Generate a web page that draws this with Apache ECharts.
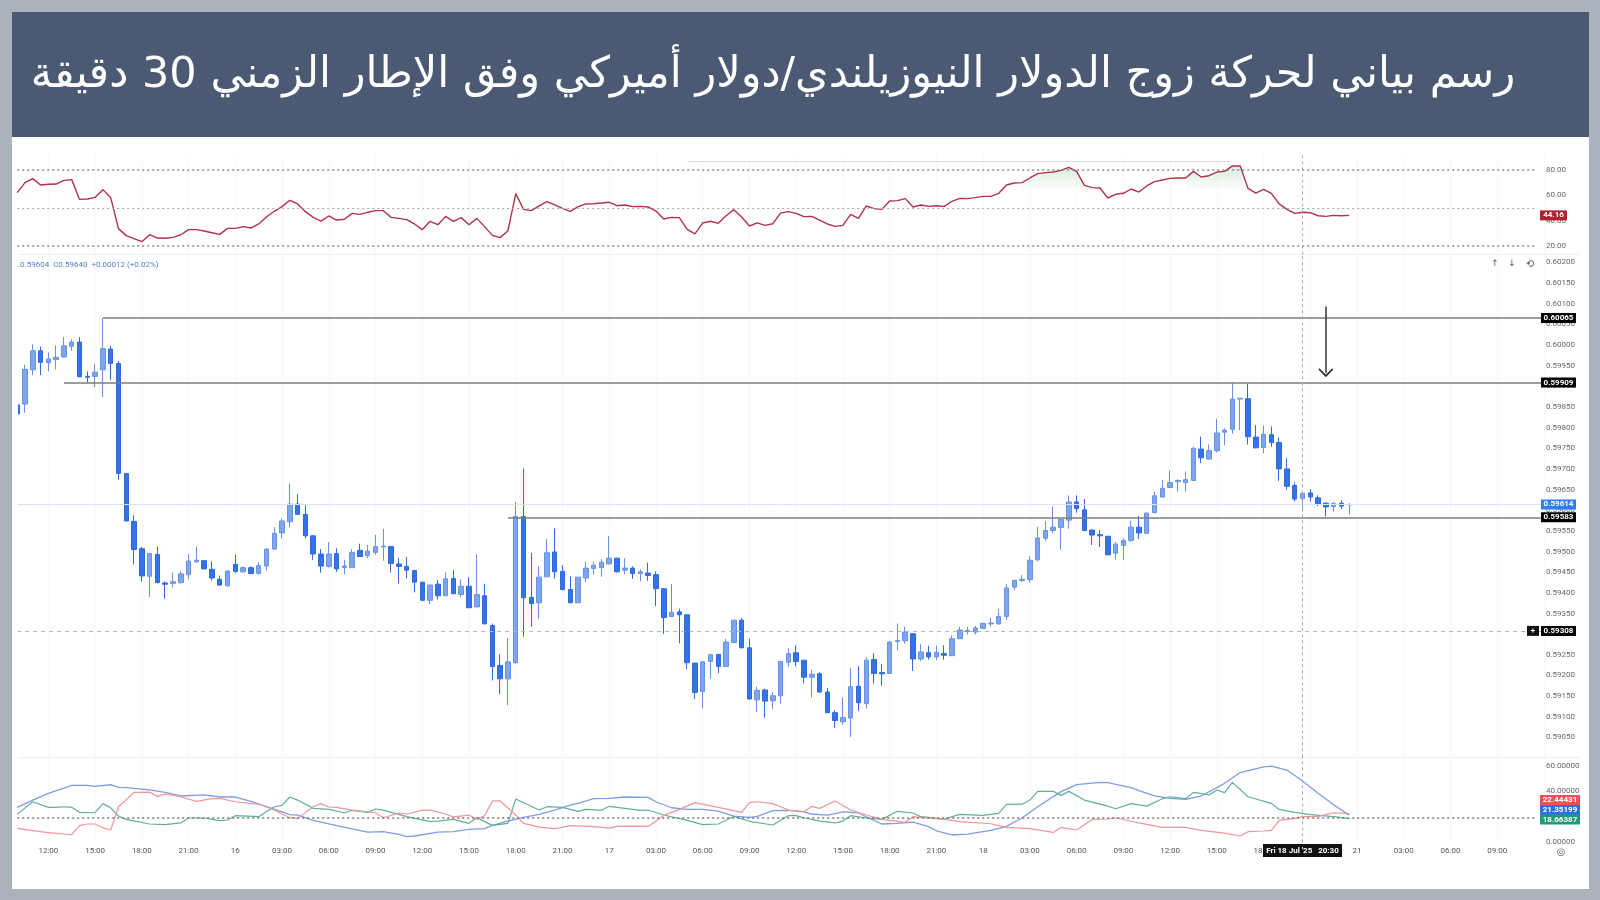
<!DOCTYPE html>
<html lang="ar">
<head>
    <meta charset="utf-8" />
    <title>NZD/USD 30m</title>
    <script type="text/javascript" src="https://cdn.jsdelivr.net/npm/echarts@6/dist/echarts.min.js"></script>
    <style type="text/css">
        html, body { margin: 0; padding: 0; background: #aab3bc; }
        #main { width: 1600px; height: 900px; }
    </style>
</head>
<body>
    <div id="main"></div>
    <script type="text/javascript">
        // values, prices in 1/100000
        var opens = [
            59855,59857,59940,59986,59957,59965,59971,59997,60007,59924,
            59924,59940,59990,59955,59689,59573,59507,59440,59493,59424,
            59423,59425,59444,59475,59478,59457,59433,59417,59469,59451,
            59461,59447,59465,59506,59545,59572,59615,59590,59538,59494,
            59464,59495,59461,59461,59503,59490,59498,59511,59512,59470,
            59464,59454,59426,59382,59421,59393,59435,59396,59416,59366,
            59393,59321,59224,59192,59231,59585,59389,59376,59439,59499,
            59452,59408,59376,59436,59459,59461,59470,59484,59455,59460,
            59447,59448,59444,59410,59343,59354,59347,59230,59161,59234,
            59251,59222,59280,59334,59267,59141,59165,59139,59151,59232,
            59255,59237,59196,59204,59160,59110,59088,59097,59174,59132,
            59239,59207,59205,59282,59284,59301,59240,59255,59245,59253,
            59248,59289,59306,59305,59314,59325,59325,59343,59414,59430,
            59432,59480,59532,59551,59558,59576,59620,59601,59552,59541,
            59537,59496,59515,59527,59559,59544,59594,59632,59655,59669,
            59667,59672,59748,59724,59744,59789,59796,59869,59870,59777,
            59752,59783,59764,59700,59660,59628,59642,59630,59617,59609,
            59617,59613
        ];
        var closes = [
            59833,59941,59986,59958,59966,59970,59998,60007,59923,59922,
            59934,59991,59955,59689,59574,59505,59441,59495,59425,59421,
            59427,59446,59477,59479,59458,59436,59419,59453,59452,59461,
            59447,59466,59506,59544,59574,59615,59590,59538,59494,59465,
            59494,59458,59465,59498,59488,59501,59512,59513,59471,59464,
            59455,59426,59382,59419,59393,59434,59398,59416,59364,59396,
            59325,59222,59192,59233,59585,59388,59374,59438,59497,59451,
            59408,59376,59438,59460,59467,59474,59484,59451,59460,59447,
            59451,59442,59410,59340,59353,59347,59231,59159,59233,59250,
            59222,59281,59334,59267,59143,59164,59138,59151,59234,59253,
            59234,59196,59203,59160,59110,59091,59098,59173,59134,59237,
            59205,59204,59281,59285,59305,59240,59257,59245,59256,59249,
            59289,59310,59309,59315,59326,59327,59343,59412,59430,59433,
            59479,59533,59551,59559,59578,59620,59604,59551,59540,59538,
            59492,59518,59527,59559,59545,59593,59635,59653,59667,59672,
            59674,59750,59727,59744,59787,59794,59869,59871,59778,59751,
            59784,59764,59700,59658,59627,59641,59632,59614,59608,59616,
            59610,59614
        ];
        var lows = [
            59833,59836,59927,59927,59936,59941,59970,59986,59922,59909,
            59898,59874,59915,59674,59574,59469,59427,59390,59423,59386,
            59413,59422,59433,59474,59457,59430,59417,59416,59448,59449,
            59446,59444,59454,59504,59532,59558,59589,59532,59480,59449,
            59461,59451,59445,59460,59487,59484,59492,59478,59449,59423,
            59435,59401,59380,59373,59384,59393,59397,59389,59363,59366,
            59324,59188,59155,59128,59229,59294,59318,59337,59439,59434,
            59406,59375,59375,59426,59444,59439,59469,59449,59445,59434,
            59428,59429,59368,59301,59341,59278,59215,59143,59120,59192,
            59206,59221,59278,59266,59142,59112,59098,59119,59132,59221,
            59222,59181,59147,59158,59110,59073,59080,59051,59114,59120,
            59181,59175,59205,59261,59277,59211,59235,59238,59237,59238,
            59247,59288,59299,59299,59313,59318,59324,59335,59406,59426,
            59425,59476,59525,59544,59505,59555,59594,59550,59516,59511,
            59492,59480,59480,59523,59530,59544,59593,59632,59654,59646,
            59646,59671,59714,59723,59740,59757,59785,59794,59759,59750,
            59738,59754,59671,59650,59621,59603,59621,59610,59585,59597,
            59603,59590
        ];
        var highs = [
            59855,59952,60002,59996,59982,59999,60019,60014,60019,59936,
            59954,60065,59998,59961,59689,59588,59511,59497,59512,59428,
            59449,59452,59494,59512,59479,59476,59442,59454,59492,59464,
            59464,59474,59507,59559,59580,59665,59639,59613,59540,59506,
            59523,59508,59480,59506,59519,59516,59540,59555,59513,59484,
            59487,59454,59426,59419,59431,59450,59455,59433,59438,59494,
            59422,59326,59251,59291,59620,59701,59497,59465,59530,59556,
            59467,59440,59438,59475,59476,59481,59538,59485,59484,59464,
            59457,59473,59452,59411,59422,59362,59347,59230,59234,59253,
            59251,59289,59334,59339,59289,59173,59168,59160,59234,59266,
            59273,59237,59214,59208,59170,59116,59147,59218,59222,59244,
            59254,59228,59283,59326,59318,59302,59276,59272,59272,59273,
            59297,59318,59318,59320,59328,59339,59361,59421,59432,59443,
            59488,59560,59574,59609,59578,59636,59636,59627,59554,59552,
            59537,59523,59532,59575,59586,59595,59645,59673,59696,59675,
            59694,59754,59778,59759,59822,59798,59909,59871,59907,59806,
            59805,59803,59776,59726,59667,59645,59651,59636,59619,59620,
            59624,59617
        ];
        var rsiValues = [
            62.1,70,73.2,68.2,68.7,68.9,71.8,72.4,56.8,57.1,
            58.4,64.5,58.2,33.7,28.2,25.8,23.4,28.9,26.3,26.1,
            26.8,28.9,32.9,32.9,31.8,30.5,29.2,33.9,33.9,35.3,
            34.2,37.4,42.9,47.4,51.1,56.1,53.2,47.1,42.6,39.7,
            43.7,40.5,41.1,45.8,45,46.6,47.9,47.9,42.6,41.8,
            40.8,37.4,32.9,39.5,36.8,43.4,39.5,42.4,36.8,41.8,
            35.3,28.4,26.6,32.1,61.3,48.9,47.9,51.6,55,52.4,
            49.7,47.4,51.1,53.2,53.4,53.9,54.5,51.8,52.4,51.1,
            51.3,50.8,47.6,41.3,42.6,42.4,33.2,29.5,38.2,39.5,
            37.9,43.9,48.7,42.9,35.8,38.2,36.3,37.6,46,47.1,
            45.8,43.2,43.4,40.5,37.4,35.5,36.3,45,41.8,51.6,
            49.5,48.9,55.5,55.8,57.4,50.8,52.4,51.3,51.8,51.3,
            55.3,57.6,57.4,58.2,59.2,59.2,61.6,68.2,69.7,70,
            73.7,77.1,77.9,78.4,79.7,82.1,78.9,67.9,66.1,65.8,
            57.9,60.8,61.6,65,62.6,67.4,70.8,72.1,73.4,73.7,
            73.7,78.9,74.5,75.5,78.4,78.9,83.2,83.2,65.5,61.8,
            64.7,61.6,53.2,48.9,45.8,46.6,46.3,43.9,43.4,44.2,
            43.9,44.16
        ];
        // ADX / DI lines: [candle index, value] at the turning points
        var adxPoints = [
            [0,27.4],[2,33.1],[4,38.4],[6,42.5],[7,44.6],[9,44.6],[10,43.8],[12,45.1],[13,43],[14,42.8],
            [17,41],[19,39.1],[21,36.3],[24,37.1],[26,35.5],[28,35.5],[30,32.1],[32,27.9],[34,23.8],[35,21.7],
            [36,21.4],[38,17.2],[41,13.1],[43,10.5],[45,8.1],[47,8.4],[49,6.3],[50,4.5],[51,5],[54,8.1],
            [56,8.4],[58,10.2],[60,10.7],[61,13.3],[63,16.7],[65,19.6],[67,21.9],[69,25.3],[71,29.2],[72,30.5],
            [74,34.2],[76,34.4],[78,35.5],[81,35.2],[82,31.8],[84,27.1],[86,25.8],[88,25.8],[90,24.5],[92,20.6],
            [94,19.6],[95,20.4],[97,24.8],[99,25.1],[101,23.8],[102,22.2],[104,21.4],[105,22.5],[106,23.8],[108,23.2],
            [109,19.9],[111,14.4],[113,14.9],[115,15.9],[117,12.3],[118,9.1],[120,5.8],[122,6.5],[125,9.4],[127,12.5],
            [129,19.1],[131,27.9],[134,39.7],[136,45.2],[139,47],[140,46.7],[143,42.8],[144,40.5],[146,36.3],[148,34.4],
            [150,33.7],[152,36.3],[155,46.2],[157,54.6],[160,59],[161,59.7],[163,56.6],[165,48],[167,38.4],[169,29.5],
            [171,21.35]
        ];
        var diPlusPoints = [
            [0,21.9],[2,31.8],[4,27.4],[5,27.4],[6,27.9],[7,27.4],[8,23.5],[10,23.2],[11,30.3],[12,27.1],
            [13,20.6],[14,18],[17,14.4],[19,13.9],[21,15.2],[22,19.1],[24,19.1],[26,17],[27,17.5],[28,20.9],
            [31,20.1],[33,27.9],[34,29],[35,35.5],[36,33.1],[38,26.6],[40,25.8],[42,23.2],[43,25.1],[45,23.5],
            [46,26.1],[47,25.3],[50,20.1],[53,16.2],[54,16.7],[56,18],[57,16.5],[58,14.9],[59,19.4],[61,13.3],
            [63,14.9],[64,33.9],[67,25.3],[68,27.9],[70,27.4],[72,24.3],[73,25.8],[75,25.1],[76,28.2],[80,25.1],
            [81,25.3],[83,21.4],[86,17.2],[88,13.9],[90,14.4],[92,20.4],[94,16.5],[97,13.6],[99,20.9],[100,20.9],
            [101,19.3],[103,16.7],[105,15.2],[106,16.7],[107,20.9],[109,19.1],[111,18],[113,24.3],[115,23],[116,20.1],
            [119,18.3],[121,21.9],[124,21.1],[126,22.7],[127,29.7],[129,29.9],[130,33.1],[131,39.9],[133,39.9],[134,36.8],
            [135,39.9],[137,33.1],[140,28.4],[141,26.3],[143,30.3],[145,28.4],[147,34.2],[148,35.7],[150,34.2],[151,39.1],
            [153,37.1],[154,41],[155,38.9],[156,46.9],[158,35.7],[161,30.5],[162,25.8],[164,23.5],[166,21.7],[169,20.1],
            [171,18.66]
        ];
        var diMinusPoints = [
            [0,11],[2,9.2],[4,7.6],[7,6],[8,13.1],[9,14.4],[10,14.4],[11,11.5],[12,9.7],[13,27.9],
            [15,39.1],[17,39.3],[18,36],[19,37.8],[21,35.7],[23,32.1],[25,34.2],[26,34.4],[28,31.8],[30,30.5],
            [31,30],[33,25.3],[35,19.3],[36,18.8],[38,27.9],[39,30.3],[40,27.7],[41,27.4],[43,25.3],[46,23.2],
            [47,19.3],[49,23],[50,22.2],[52,25.3],[53,25.3],[55,22.2],[56,19.9],[58,21.4],[59,18],[60,20.9],
            [61,32.4],[62,32.4],[64,21.4],[65,14.9],[67,12],[69,10.7],[71,13.1],[74,12.3],[76,11.2],[77,12.5],
            [79,12.8],[81,12.5],[83,21.1],[85,25.8],[87,31.1],[90,27.4],[93,23.5],[94,31.1],[95,31.8],[97,30.3],
            [99,25.3],[101,24],[102,28.2],[103,26.6],[105,32.4],[107,25.3],[109,21.4],[111,18],[114,15.7],[115,20.1],
            [119,18],[121,16.2],[125,14.6],[127,11.7],[130,10.7],[133,7.8],[134,11.7],[136,9.7],[138,18],[140,18.3],
            [141,19.3],[144,15.2],[147,11.7],[150,11.7],[152,9.4],[155,7.3],[157,5],[158,8.4],[160,8.9],[161,9.4],
            [162,17.2],[164,18.8],[165,20.1],[167,20.4],[169,23.2],[171,22.44]
        ];
        // time axis: one label every 6 candles from candle 4
        var timeLabels = [
            '12:00','15:00','18:00','21:00','16','03:00','06:00','09:00',
            '12:00','15:00','18:00','21:00','17','03:00','06:00','09:00',
            '12:00','15:00','18:00','21:00','18','03:00','06:00','09:00',
            '12:00','15:00','18:00','21:00','21','03:00','06:00','09:00'
        ];
        var priceTicks = [
            0.602,0.6015,0.601,0.6005,0.6,0.5995,0.599,0.5985,0.598,0.5975,0.597,0.5965,
            0.596,0.5955,0.595,0.5945,0.594,0.5935,0.593,0.5925,0.592,0.5915,0.591,0.5905
        ];
        var rsiTicks = [20, 40, 60, 80];
        var adxTicks = [0, 20, 40, 60];
        // drawn lines: price, first candle
        var levelPrices = [0.60065, 0.59909, 0.59583];
        var levelStarts = [11, 6, 63];
        var lastPrice = 0.59614;
        var crossPrice = 0.59308;
        var crossIndex = 165;
        var arrowIndex = 168;
        var arrowFrom = 0.60093;
        var arrowTo = 0.59933;

        var categories = [];
        for (var i = 0; i < 197; i++) {
            categories.push((i - 4) % 6 == 0 && i >= 4 ? (timeLabels[(i - 4) / 6] || '') : '');
        }
        var candles = opens.map(function (o, i) {
            return [o / 100000, closes[i] / 100000, lows[i] / 100000, highs[i] / 100000];
        });
        // green shading only where RSI runs into the overbought zone
        var rsiHot = rsiValues.map(function (v, i) {
            return (i >= 129 && i <= 137) || (i >= 150 && i <= 158) ? v : null;
        });

        var fontName = 'Roboto, "Liberation Sans", sans-serif';

        function makeXAxis(gridIndex, showLabels) {
            return {
                type: 'category',
                gridIndex: gridIndex,
                data: categories,
                boundaryGap: false,
                axisLine: { show: false },
                axisTick: { show: false },
                axisLabel: {
                    show: showLabels,
                    interval: 0,
                    color: '#555',
                    fontSize: 8,
                    fontFamily: fontName,
                    margin: 5,
                    hideOverlap: false
                },
                splitLine: {
                    show: true,
                    interval: function (i) { return (i - 4) % 6 == 0; },
                    lineStyle: { color: '#f7f8fb', width: 1 }
                }
            };
        }

        function makeYAxis(gridIndex, min, max, ticks, digits) {
            return {
                type: 'value',
                gridIndex: gridIndex,
                position: 'right',
                min: min,
                max: max,
                axisLine: { show: false },
                axisTick: { show: false },
                splitLine: { show: false },
                axisLabel: {
                    customValues: ticks,
                    color: '#666',
                    fontSize: 8,
                    fontFamily: fontName,
                    margin: 2,
                    formatter: function (v) { return v.toFixed(digits); }
                }
            };
        }

        function crossLine() {
            return [{
                xAxis: crossIndex,
                lineStyle: { color: '#aaa', type: [3, 3], width: 1 }
            }];
        }

        function hLine(from, to, value, color, type, width) {
            return [
                { coord: [from, value], lineStyle: { color: color, type: type, width: width } },
                { coord: [to, value] }
            ];
        }

        var levelLines = levelPrices.map(function (p, i) {
            return hLine(levelStarts[i], 196, p, '#7c7c7c', 'solid', 1.5);
        });
        levelLines.push(hLine(0, 196, lastPrice, '#d9e2f6', 'solid', 1));
        levelLines.push(hLine(0, 196, crossPrice, '#b5b5b5', [4, 4], 1));
        levelLines.push(crossLine()[0]);

        var option = {
            backgroundColor: '#aab3bc',
            animation: false,
            grid: [
                { left: 17.2, width: 1526.8, top: 155, height: 99.5 },
                { left: 17.2, width: 1526.8, top: 254.5, height: 502.8 },
                { left: 17.2, width: 1526.8, top: 757.3, height: 85.1 }
            ],
            xAxis: [makeXAxis(0, false), makeXAxis(1, false), makeXAxis(2, true)],
            yAxis: [
                makeYAxis(0, 13.29, 91.84, rsiTicks, 2),
                makeYAxis(1, 0.59002, 0.60219, priceTicks, 5),
                makeYAxis(2, 0, 66.55, adxTicks, 5)
            ],
            series: [
                {
                    name: 'RSI overbought',
                    type: 'line',
                    xAxisIndex: 0,
                    yAxisIndex: 0,
                    data: rsiHot,
                    symbol: 'none',
                    lineStyle: { width: 0 },
                    areaStyle: {
                        color: new echarts.graphic.LinearGradient(0, 0, 0, 1, [
                            { offset: 0, color: 'rgba(90,180,110,0.35)' },
                            { offset: 0.28, color: 'rgba(90,180,110,0)' }
                        ])
                    }
                },
                {
                    name: 'RSI',
                    type: 'line',
                    xAxisIndex: 0,
                    yAxisIndex: 0,
                    data: rsiValues,
                    symbol: 'none',
                    lineStyle: { color: '#b2324b', width: 1.4 },
                    markLine: {
                        silent: true,
                        symbol: 'none',
                        label: { show: false },
                        data: [
                            hLine(0, 195, 80, '#8a8a8a', [2, 3], 1.5),
                            hLine(0, 195, 50, '#a8a8a8', [2, 3], 1),
                            hLine(0, 195, 20, '#8a8a8a', [2, 3], 1.5),
                            hLine(86, 156, 87.3, '#dedede', 'solid', 1),
                            crossLine()[0]
                        ]
                    }
                },
                {
                    name: 'NZDUSD',
                    type: 'candlestick',
                    xAxisIndex: 1,
                    yAxisIndex: 1,
                    data: candles,
                    barWidth: 5,
                    itemStyle: {
                        color: '#7ea6ef',
                        color0: '#3573e8',
                        borderColor: '#6892e6',
                        borderColor0: '#2f6bdc',
                        borderWidth: 1
                    },
                    markLine: {
                        silent: true,
                        symbol: 'none',
                        label: { show: false },
                        data: levelLines
                    }
                },
                {
                    // the drawn arrow only
                    name: 'arrow',
                    type: 'line',
                    xAxisIndex: 1,
                    yAxisIndex: 1,
                    data: [],
                    markLine: {
                        silent: true,
                        symbol: ['none', 'path://M0,0 L10,9 L8.6,10.5 L0,3 L-8.6,10.5 L-10,9 Z'],
                        symbolSize: [15, 9],
                        label: { show: false },
                        data: [[
                            { coord: [arrowIndex, arrowFrom], lineStyle: { color: '#333', width: 1.5, type: 'solid' }, itemStyle: { color: '#333' } },
                            { coord: [arrowIndex, arrowTo], itemStyle: { color: '#333' } }
                        ]]
                    }
                },
                {
                    name: 'ADX',
                    type: 'line',
                    xAxisIndex: 2,
                    yAxisIndex: 2,
                    data: adxPoints,
                    symbol: 'none',
                    lineStyle: { color: '#7f9ce6', width: 1.3 },
                    markLine: {
                        silent: true,
                        symbol: 'none',
                        label: { show: false },
                        data: [
                            hLine(0, 195, 19, '#777', [2, 3], 1.5),
                            crossLine()[0]
                        ]
                    }
                },
                {
                    name: 'DI+',
                    type: 'line',
                    xAxisIndex: 2,
                    yAxisIndex: 2,
                    data: diPlusPoints,
                    symbol: 'none',
                    lineStyle: { color: '#62b095', width: 1.2 }
                },
                {
                    name: 'DI-',
                    type: 'line',
                    xAxisIndex: 2,
                    yAxisIndex: 2,
                    data: diMinusPoints,
                    symbol: 'none',
                    lineStyle: { color: '#f0959b', width: 1.2 }
                }
            ]
        };

        var myChart = echarts.init(document.getElementById('main'));
        myChart.setOption(option);

        function priceTag(text, x, y, w, bg, h) {
            h = h || 10;
            return [
                { type: 'rect', z: 100, shape: { x: x, y: y - h / 2, width: w, height: h }, style: { fill: bg } },
                {
                    type: 'text', z: 101,
                    style: {
                        text: text, x: x + w / 2, y: y, fill: '#fff', align: 'center', verticalAlign: 'middle',
                        font: 'bold 8px ' + fontName
                    }
                }
            ];
        }

        function priceY(p) {
            return myChart.convertToPixel({ yAxisIndex: 1 }, p);
        }

        function smallText(text, x, y, size, color) {
            return {
                type: 'text', z: 60,
                style: {
                    text: text, x: x, y: y, fill: color, align: 'center', verticalAlign: 'middle',
                    font: size + 'px "DejaVu Sans", sans-serif'
                }
            };
        }

        var elements = [
            { type: 'rect', z: -10, shape: { x: 12, y: 137, width: 1577, height: 752 }, style: { fill: '#fff' } },
            { type: 'rect', z: -9, shape: { x: 12, y: 12, width: 1577, height: 125 }, style: { fill: '#4b5a72' } },
            { type: 'rect', z: -8, shape: { x: 18, y: 254, width: 1562, height: 1 }, style: { fill: '#eceef1' } },
            { type: 'rect', z: -8, shape: { x: 18, y: 757, width: 1562, height: 1 }, style: { fill: '#eceef1' } },
            // the first candle is cut by the chart's left edge
            { type: 'rect', z: 50, shape: { x: 12, y: 255, width: 6, height: 502 }, style: { fill: '#fff' } },
            // the lowest ADX label is cut by the time scale
            { type: 'rect', z: 50, shape: { x: 1544, y: 845, width: 40, height: 6 }, style: { fill: '#fff' } },
            {
                type: 'text', z: 60,
                style: {
                    text: 'رسم بياني لحركة زوج الدولار النيوزيلندي/دولار أميركي وفق الإطار الزمني 30 دقيقة',
                    x: 773, y: 76, fill: '#fff', align: 'center', verticalAlign: 'middle',
                    font: '43px "DejaVu Sans", sans-serif'
                }
            },
            {
                type: 'text', z: 60,
                style: {
                    text: '.0.59604  C0.59640  +0.00012 (+0.02%)',
                    x: 18, y: 264.5, fill: '#4f7fd0', verticalAlign: 'middle',
                    font: '8px ' + fontName
                }
            },
            smallText('↑', 1495, 264, 9, '#555'),
            smallText('↓', 1512, 264, 9, '#555'),
            smallText('⟲', 1530, 264, 10, '#555'),
            smallText('◎', 1561, 852, 10, '#666')
        ];
        elements = elements
            .concat(priceTag('0.60065', 1541, priceY(0.60065), 35, '#000'))
            .concat(priceTag('0.59909', 1541, priceY(0.59909), 35, '#000'))
            .concat(priceTag('0.59614', 1541, priceY(lastPrice), 35, '#2f7ff0'))
            .concat(priceTag('0.59583', 1541, priceY(0.59583), 35, '#000'))
            .concat(priceTag('0.59308', 1541, priceY(crossPrice), 35, '#000'))
            .concat(priceTag('+', 1527, priceY(crossPrice), 12, '#111'))
            .concat(priceTag('44.16', 1540, myChart.convertToPixel({ yAxisIndex: 0 }, 44.16), 27, '#b2202f'))
            .concat(priceTag('22.44431', 1540, 800, 40, '#f0505a'))
            .concat(priceTag('21.35199', 1540, 810, 40, '#2f6fe6'))
            .concat(priceTag('18.66387', 1540, 819.5, 40, '#1f9a78'))
            .concat(priceTag("Fri 18 Jul '25   20:30", 1263, 850.5, 79, '#111', 13));

        myChart.setOption({ graphic: { elements: elements } });
    </script>
</body>
</html>
